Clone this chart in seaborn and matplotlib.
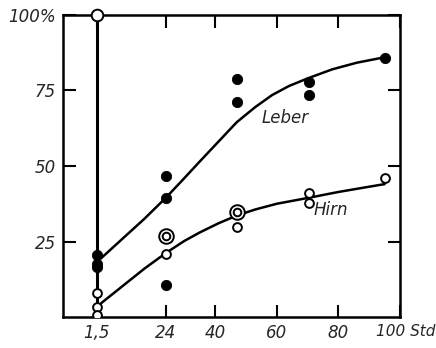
import matplotlib
matplotlib.use("Agg")
import matplotlib.pyplot as plt
import matplotlib.transforms as mtransforms
import numpy as np
import pandas as pd
import seaborn as sns

# Messpunkte Leber (gefuellte Kreise)
leber_x = [1.5, 1.5, 1.5, 24, 24, 24, 47, 47, 70.5, 70.5, 95]
leber_y = [20.5, 17.5, 16.5, 46.7, 39.4, 10.6, 78.8, 71.2, 77.8, 73.5, 85.8]

# Messpunkte Hirn (offene Kreise)
hirn_x = [1.5, 1.5, 1.5, 24, 47, 70.5, 70.5, 95]
hirn_y = [8.0, 3.3, 0.7, 21.0, 29.8, 41.0, 37.7, 46.0]

# Doppelkreise
doppel_x = [24, 47]
doppel_y = [26.8, 34.8]

# Ausgleichskurven
leber_kx = [3, 10, 17, 24, 30, 35, 41, 47, 53, 58.5, 64, 70, 78, 86, 95]
leber_ky = [19.5, 26, 32.5, 39.5, 46, 51.5, 58, 64.5, 69.5, 73.5, 76.5, 79, 82, 84.2, 86]
hirn_kx = [3, 10, 17, 24, 30, 35, 41, 47, 53, 60, 71, 80, 88, 95]
hirn_ky = [4.6, 10.3, 16, 21.2, 25.2, 28, 31, 33.6, 35.6, 37.5, 39.6, 41.4, 42.8, 44]

xticks = [1.5, 24, 40, 60, 80, 100]
xticklabels = ["1,5", "24", "40", "60", "80", "100 Std"]
yticks = [25, 50, 75, 100]
yticklabels = ["25", "50", "75", "100%"]

sns.set_style("ticks")
plt.rcParams['font.family'] = ['DejaVu Sans']
plt.rcParams['font.style'] = 'italic'

fig = plt.figure(figsize=(4.36, 3.48), dpi=100)
ax = fig.add_axes([0.1445, 0.089, 0.773, 0.868])

lk = pd.DataFrame({"x": leber_kx, "y": leber_ky})
hk = pd.DataFrame({"x": hirn_kx, "y": hirn_ky})
sns.lineplot(data=lk, x="x", y="y", ax=ax, color="black", lw=1.8, sort=False)
sns.lineplot(data=hk, x="x", y="y", ax=ax, color="black", lw=1.8, sort=False)

# senkrechte Linie bei 1,5 Std
ax.plot([1.5, 1.5], [0, 100], color="black", lw=2.2, zorder=2)

sns.scatterplot(x=leber_x, y=leber_y, ax=ax, color="black", s=55,
                edgecolor="black", zorder=4)
sns.scatterplot(x=hirn_x, y=hirn_y, ax=ax, color="white", s=40,
                edgecolor="black", linewidth=1.4, zorder=4)
sns.scatterplot(x=doppel_x, y=doppel_y, ax=ax, color="white", s=110,
                edgecolor="black", linewidth=1.4, zorder=4)
sns.scatterplot(x=doppel_x, y=doppel_y, ax=ax, color="white", s=30,
                edgecolor="black", linewidth=1.4, zorder=5)
ax.scatter([1.5], [100], s=70, facecolor="white", edgecolor="black",
           linewidth=1.4, zorder=6, clip_on=False)

ax.text(62.7, 66, "Leber", fontsize=12, ha="center", va="center")
ax.text(77.5, 35.5, "Hirn", fontsize=12, ha="center", va="center")

ax.set_xlim(-9.4, 100)
ax.set_ylim(0, 100)
ax.set_xticks(xticks)
ax.set_xticklabels(xticklabels, fontsize=12)
ax.set_yticks(yticks)
ax.set_yticklabels(yticklabels, fontsize=12)
ax.set_xlabel("")
ax.set_ylabel("")
ax.tick_params(direction="in", length=9, width=1.5, top=True, right=True,
               bottom=True, left=True, pad=5, color="black")
for s in ax.spines.values():
    s.set_visible(True)
    s.set_color("black")
    s.set_linewidth(1.8)

# "100 Std" beginnt kurz vor der Achsenecke
lab = ax.get_xticklabels()[-1]
lab.set_fontsize(11)
lab.set_horizontalalignment("left")
lab.set_transform(lab.get_transform() +
                  mtransforms.ScaledTranslation(-0.24, 0, fig.dpi_scale_trans))

fig.savefig("out.png", dpi=100)
